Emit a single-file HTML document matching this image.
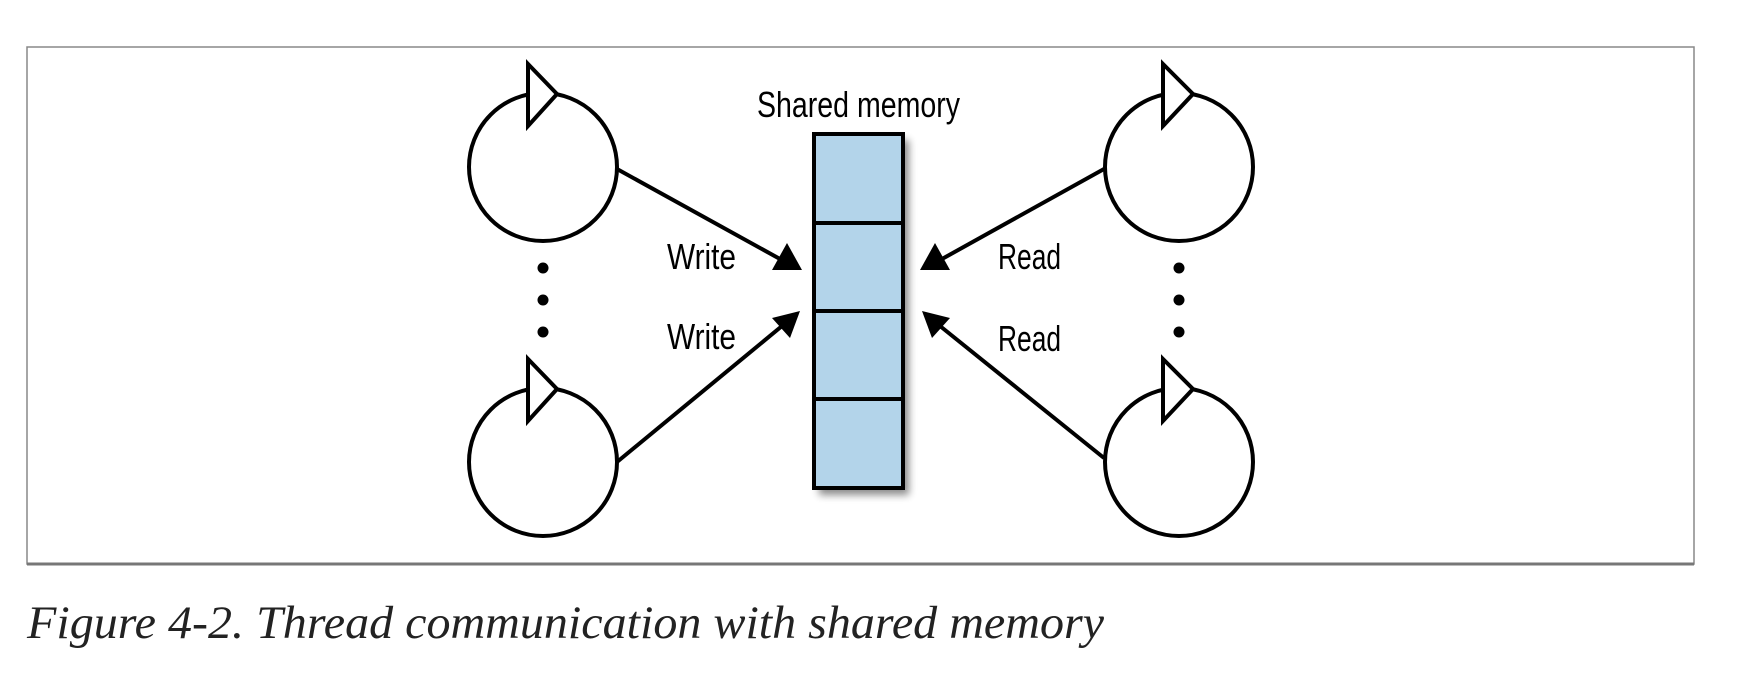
<!DOCTYPE html>
<html><head><meta charset="utf-8"><style>html,body{margin:0;padding:0;background:#fff;}svg{display:block;}</style></head>
<body>
<svg width="1740" height="680" viewBox="0 0 1740 680" xmlns="http://www.w3.org/2000/svg">
<defs>
<filter id="sh" x="-30%" y="-10%" width="160%" height="130%"><feGaussianBlur stdDeviation="4"/></filter>
</defs>
<rect x="27" y="47" width="1667" height="517" fill="#fff" stroke="#888" stroke-width="1.5"/>
<line x1="27" y1="564" x2="1694" y2="564" stroke="#777" stroke-width="3"/>
<g fill="#fff" stroke="#000" stroke-width="4">
<circle cx="543" cy="167" r="74"/>
<circle cx="543" cy="462" r="74"/>
<circle cx="1179" cy="167" r="74"/>
<circle cx="1179" cy="462" r="74"/>
<polygon points="528,64 557,94 528,126"/>
<polygon points="528,359 557,389 528,421"/>
<polygon points="1163,64 1193,94 1163,126"/>
<polygon points="1163,359 1193,389 1163,421"/>
</g>
<g fill="#000">
<circle cx="543" cy="268" r="5.5"/><circle cx="543" cy="300" r="5.5"/><circle cx="543" cy="332" r="5.5"/>
<circle cx="1179" cy="268" r="5.5"/><circle cx="1179" cy="300" r="5.5"/><circle cx="1179" cy="332" r="5.5"/>
</g>
<rect x="819" y="140" width="90" height="355" fill="#000" opacity="0.45" filter="url(#sh)"/>
<rect x="814" y="134" width="89" height="354" fill="#b3d4ea" stroke="#000" stroke-width="4"/>
<g stroke="#000" stroke-width="4">
<line x1="814" y1="223" x2="903" y2="223"/>
<line x1="814" y1="311" x2="903" y2="311"/>
<line x1="814" y1="399" x2="903" y2="399"/>
</g>
<g stroke="#000" stroke-width="4">
<line x1="617" y1="169" x2="780" y2="259"/>
<line x1="617" y1="462" x2="782" y2="326"/>
<line x1="1104" y1="169" x2="942" y2="259"/>
<line x1="1104" y1="458" x2="940" y2="326"/>
</g>
<g fill="#000">
<polygon points="802,270 772,270 787,243"/>
<polygon points="800,311 790,338 772,318"/>
<polygon points="920,270 950,270 935,243"/>
<polygon points="922,311 932,338 950,318"/>
</g>
<g font-family="Liberation Sans, sans-serif" fill="#000">
<text x="757" y="117" font-size="36" textLength="203" lengthAdjust="spacingAndGlyphs">Shared memory</text>
<text x="667" y="269" font-size="36" textLength="69" lengthAdjust="spacingAndGlyphs">Write</text>
<text x="667" y="349" font-size="36" textLength="69" lengthAdjust="spacingAndGlyphs">Write</text>
<text x="998" y="269" font-size="36" textLength="63" lengthAdjust="spacingAndGlyphs">Read</text>
<text x="998" y="351" font-size="36" textLength="63" lengthAdjust="spacingAndGlyphs">Read</text>
</g>
<text x="27" y="638" font-family="Liberation Serif, serif" font-style="italic" font-size="47" fill="#222" textLength="1077" lengthAdjust="spacingAndGlyphs">Figure 4-2. Thread communication with shared memory</text>
</svg>
</body></html>
